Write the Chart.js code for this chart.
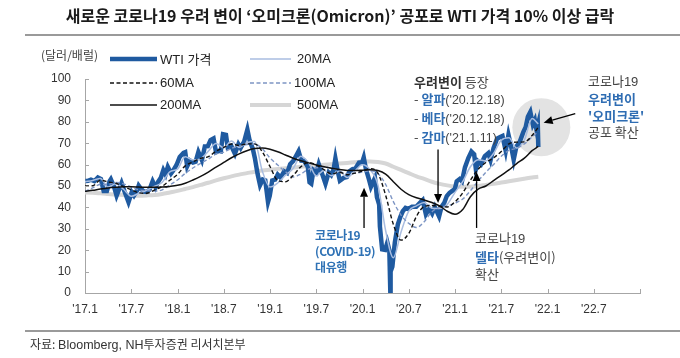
<!DOCTYPE html>
<html>
<head>
<meta charset="utf-8">
<script src="https://cdn.jsdelivr.net/npm/chart.js@4.4.1/dist/chart.umd.min.js"></script>
<style>
  body { margin: 0; background: #fff; }
  #wrap { position: relative; width: 680px; height: 358px; overflow: hidden; font-family: 'Noto Sans CJK KR', sans-serif; color: #333; }
  #chart { position: absolute; left: 0; top: 0; }
  .t { position: absolute; white-space: nowrap; font-size: 13px; line-height: 17px; color: #444; }
  .n { font-family: 'Liberation Sans Narrow', 'Liberation Sans', Arial, sans-serif; }
  .b { color: #2f6db3; font-weight: bold; }
  .hr { position: absolute; left: 25px; width: 655px; height: 2px; background: #9a9a9a; }
</style>
</head>
<body>
<div id="wrap">
  <canvas id="chart" width="680" height="358"></canvas>
  <div class="t" style="left:0;width:680px;text-align:center;top:7px;font-size:16px;font-weight:bold;color:#1a1a1a;">새로운 코로나19 우려 변이 ‘오미크론(Omicron)’ 공포로 WTI 가격 10% 이상 급락</div>
  <div class="hr" style="top:34px;"></div>
  <div class="t" style="left:41px;top:46px;font-size:12px;">(달러/배럴)</div>

  <div class="t n" style="left:160px;top:50px;color:#222;">WTI <span style="font-family:'Noto Sans CJK KR'">가격</span></div>
  <div class="t n" style="left:297px;top:50px;color:#222;">20MA</div>
  <div class="t n" style="left:160px;top:74px;color:#222;">60MA</div>
  <div class="t n" style="left:294px;top:74px;color:#222;">100MA</div>
  <div class="t n" style="left:160px;top:96px;color:#222;">200MA</div>
  <div class="t n" style="left:297px;top:96px;color:#222;">500MA</div>

  <div class="t" style="left:414px;top:73px;line-height:17px;">
    <span style="font-weight:bold;color:#333">우려변이</span> 등장<br>
    - <span class="b">알파</span><span class="n" style="font-size:12.5px">('20.12.18)</span><br>
    - <span class="b">베타</span><span class="n" style="font-size:12.5px">('20.12.18)</span><br>
    - <span class="b">감마</span><span class="n" style="font-size:12.5px">('21.1.11)</span>
  </div>
  <div class="t" style="left:588px;top:73px;line-height:16.8px;">
    코로나<span class="n">19</span><br>
    <span class="b">우려변이</span><br>
    <span class="b">'오미크론'</span><br>
    공포 확산
  </div>
  <div class="t b" style="left:315px;top:227px;line-height:16px;font-size:12px;letter-spacing:-0.4px;color:#2f72b5;">
    코로나19<br>(COVID-19)<br>대유행
  </div>
  <div class="t" style="left:475px;top:229px;line-height:17.5px;">
    코로나<span class="n">19</span><br>
    <span class="b">델타</span>(우려변이)<br>
    확산
  </div>

  <div class="hr" style="top:330px;"></div>
  <div class="t" style="left:30px;top:335px;font-size:12px;color:#333;">자료: <span class="n" style="font-size:12.5px">Bloomberg, NH</span>투자증권 리서치본부</div>
</div>

<script>
// x axis is in months since Jan 2017
const tickMonths = [0, 6, 12, 18, 24, 30, 36, 42, 48, 54, 60, 66, 72];
const tickLabels = ["'17.1", "'17.7", "'18.1", "'18.7", "'19.1", "'19.7", "'20.1", "'20.7", "'21.1", "'21.7", "'22.1", "'22.7", ""];

// WTI price (USD/bbl)
const wtiDates = [
  '2017-01-03','2017-01-13','2017-01-25','2017-02-08','2017-02-22','2017-03-03','2017-03-14','2017-03-27','2017-04-07','2017-04-12','2017-04-25','2017-05-04','2017-05-15','2017-05-24','2017-06-05','2017-06-14','2017-06-21','2017-07-03','2017-07-12','2017-07-25','2017-07-31','2017-08-10','2017-08-21','2017-08-31','2017-09-12','2017-09-25','2017-10-06','2017-10-16','2017-10-27','2017-11-06','2017-11-15','2017-11-24','2017-12-06','2017-12-15','2017-12-28',
  '2018-01-10','2018-01-25','2018-02-01','2018-02-09','2018-02-20','2018-03-01','2018-03-12','2018-03-23','2018-04-06','2018-04-18','2018-04-30','2018-05-10','2018-05-22','2018-06-01','2018-06-12','2018-06-20','2018-06-29','2018-07-10','2018-07-17','2018-07-31','2018-08-15','2018-08-29','2018-09-07','2018-09-21','2018-10-03','2018-10-12','2018-10-25','2018-11-02','2018-11-13','2018-11-23','2018-12-03','2018-12-13','2018-12-24','2018-12-31',
  '2019-01-10','2019-01-22','2019-02-01','2019-02-13','2019-02-27','2019-03-08','2019-03-20','2019-04-01','2019-04-12','2019-04-23','2019-05-03','2019-05-14','2019-05-29','2019-06-05','2019-06-12','2019-06-21','2019-07-02','2019-07-11','2019-07-24','2019-08-07','2019-08-20','2019-08-30','2019-09-09','2019-09-16','2019-09-27','2019-10-03','2019-10-18','2019-10-31','2019-11-11','2019-11-22','2019-12-05','2019-12-18','2019-12-31',
  '2020-01-06','2020-01-15','2020-01-27','2020-02-04','2020-02-20','2020-02-28','2020-03-06','2020-03-09','2020-03-18','2020-03-30','2020-04-08','2020-04-16','2020-04-20','2020-04-21','2020-04-28','2020-05-07','2020-05-19','2020-05-29','2020-06-08','2020-06-19','2020-06-30','2020-07-14','2020-07-31','2020-08-14','2020-08-26','2020-09-08','2020-09-21','2020-10-02','2020-10-13','2020-10-30','2020-11-09','2020-11-20','2020-11-30','2020-12-10','2020-12-21','2020-12-31',
  '2021-01-08','2021-01-20','2021-01-29','2021-02-10','2021-02-24','2021-03-05','2021-03-16','2021-03-23','2021-04-01','2021-04-13','2021-04-28','2021-05-11','2021-05-20','2021-06-01','2021-06-15','2021-06-28','2021-07-06','2021-07-19','2021-07-30','2021-08-10','2021-08-20','2021-08-31','2021-09-13','2021-09-28','2021-10-06','2021-10-15','2021-10-25','2021-11-04','2021-11-12','2021-11-19','2021-11-24','2021-11-26'
];
const wtiPrice = [
  52.3,52.4,53.0,52.3,54.0,53.3,47.7,47.7,52.2,53.1,49.6,45.5,48.8,51.4,47.4,44.7,42.5,47.1,45.5,48.0,50.2,48.6,47.4,47.2,48.2,52.2,49.3,51.9,53.9,57.4,55.3,58.9,55.9,57.3,59.8,
  63.6,65.5,65.8,59.2,61.9,61.0,61.4,65.9,62.1,68.5,68.6,71.4,72.2,65.8,66.4,66.2,74.2,73.9,68.1,68.8,65.0,69.5,67.8,70.8,76.4,71.3,67.3,63.1,55.7,50.4,53.0,52.6,42.5,45.4,
  52.6,53.0,55.3,53.9,56.9,56.1,60.2,61.6,63.9,66.3,61.9,61.8,59.0,51.7,51.1,57.4,56.3,60.2,55.9,51.1,56.3,55.1,57.9,62.9,56.0,52.5,53.8,54.2,56.9,57.8,58.4,60.9,61.1,
  63.3,57.8,53.1,49.6,53.8,44.8,41.3,31.1,20.4,20.1,23.6,19.9,0,10.0,12.3,23.6,32.0,35.5,38.2,39.8,39.3,40.3,40.3,42.0,43.4,36.8,39.3,37.1,40.2,35.8,40.3,42.2,45.3,46.8,47.7,48.5,
  52.2,53.3,52.2,58.7,63.2,66.1,64.8,57.8,61.5,60.2,63.9,65.3,62.1,67.7,72.1,72.9,73.4,66.4,73.9,68.3,62.3,68.5,70.5,75.3,77.4,82.3,84.6,78.8,80.8,76.1,78.4,68.2
];

// moving averages, one reading per month start (Jan 2017 .. Nov 2021) plus the last day
const ma20 = [52.0,52.6,53.5,49.5,51.0,48.5,45.2,46.6,48.0,49.8,51.6,56.6,57.9,63.7,62.2,62.7,66.3,69.9,67.9,71.0,68.0,70.2,70.8,57.0,49.5,51.4,55.0,58.2,63.9,60.9,54.7,57.4,54.8,57.0,54.0,57.0,59.9,57.5,50.5,29.2,16.5,28.5,38.3,40.7,42.3,39.6,39.5,41.4,47.0,52.0,59.0,62.3,61.7,65.2,71.4,72.5,67.7,71.5,81.5,79.0];
const ma60 = [50.0,50.1,52.7,51.9,51.3,49.7,48.2,46.8,46.6,48.1,49.8,52.7,55.4,59.4,61.3,62.9,63.7,66.3,68.0,69.6,69.0,69.7,69.7,66.0,59.1,52.6,52.0,54.9,59.0,61.0,59.8,57.7,55.6,56.4,55.3,56.0,57.0,58.1,56.0,45.7,32.1,24.7,27.8,35.8,40.4,40.9,40.5,40.2,42.6,46.8,52.7,57.8,61.0,63.1,66.1,69.7,70.5,70.6,73.6,77.5];
const ma100 = [47.5,49.1,50.7,50.7,51.7,51.0,49.5,48.2,47.9,47.6,48.2,50.5,52.8,55.9,58.4,60.6,62.6,65.0,65.8,67.6,68.6,69.4,69.6,67.4,63.1,59.8,56.7,54.2,55.6,57.9,58.5,59.0,58.3,57.0,55.6,56.0,56.5,57.1,55.8,50.8,42.7,36.4,32.6,30.6,33.3,37.9,40.1,40.7,42.0,43.9,47.8,52.3,56.4,60.0,63.9,66.6,67.7,69.7,72.9,75.5];
const ma200 = [47.5,48.0,48.6,49.1,49.4,49.6,49.6,49.5,49.4,49.4,49.5,49.8,50.3,51.3,52.8,54.5,56.5,58.8,61.0,63.2,65.0,66.5,67.5,67.8,67.2,66.0,64.5,63.0,61.8,60.8,59.8,59.0,58.3,57.7,57.3,57.2,57.4,57.6,57.2,55.5,52.0,48.5,46.0,44.5,43.5,42.3,40.7,38.2,36.8,39.0,45.0,48.5,50.0,52.5,55.0,57.5,60.5,63.0,66.5,68.5];
const ma500 = [47.0,46.8,46.6,46.3,46.0,45.8,45.6,45.5,45.6,45.8,46.3,47.0,47.7,48.6,49.5,50.5,51.5,52.6,53.6,54.5,55.3,56.0,56.7,57.2,57.6,58.0,58.3,58.6,59.0,59.3,59.6,59.9,60.2,60.5,60.8,61.1,61.4,61.5,61.2,60.5,59.0,57.5,56.0,54.5,53.3,52.0,51.0,50.3,49.8,49.6,49.7,50.0,50.5,51.0,51.6,52.2,52.8,53.4,54.0,54.3];

function toMonth(d) {
  const [y, m, day] = d.split('-').map(Number);
  return (y - 2017) * 12 + (m - 1) + (day - 1) / 31;
}
const maX = ma20.map((v, i) => (i < ma20.length - 1 ? i : toMonth('2021-11-26')));
const pts = (xs, ys) => ys.map((v, i) => ({ x: xs[i], y: v }));

const wtiData = pts(wtiDates.map(toMonth), wtiPrice);

// annotation arrows, in axis units (month, price)
const arrows = [
  { x1: 63.6, y1: 83.8, x2: 59.5, y2: 79.6 },
  { x1: 45.8, y1: 67.0, x2: 45.8, y2: 42.0 },
  { x1: 36.2, y1: 30.4, x2: 36.2, y2: 49.2 },
  { x1: 50.8, y1: 30.4, x2: 50.8, y2: 56.5 }
];
const highlight = { x: 59.2, y: 77.5, r: 29 };

const datasets = [
  { label: '200MA', data: pts(maX, ma200), borderColor: '#111', borderWidth: 1.5, order: 0, cubicInterpolationMode: 'monotone' },
  { label: '60MA', data: pts(maX, ma60), borderColor: '#111', borderWidth: 1.4, borderDash: [4, 2.5], order: 1, cubicInterpolationMode: 'monotone' },
  { label: '100MA', data: pts(maX, ma100), borderColor: '#7d95c4', borderWidth: 1.4, borderDash: [4, 2.5], order: 2, cubicInterpolationMode: 'monotone' },
  { label: '20MA', data: pts(maX, ma20), borderColor: '#a9bde0', borderWidth: 1.5, order: 3, cubicInterpolationMode: 'monotone' },
  { label: 'WTI 가격', data: wtiData, borderColor: '#1f5aa0', borderWidth: 4.5, order: 4, clip: { left: 5, right: 5, top: 5, bottom: 0 } },
  { label: '500MA', data: pts(maX, ma500), borderColor: '#d6d6d6', borderWidth: 4, order: 5, cubicInterpolationMode: 'monotone' }
];

// legend samples: [dataset label, line start x, line end x, y]
const legendRows = [
  ['WTI 가격', 110, 157, 59], ['20MA', 250, 291, 59],
  ['60MA', 110, 157, 83], ['100MA', 250, 291, 83],
  ['200MA', 110, 157, 105], ['500MA', 250, 291, 105]
];

const extras = {
  id: 'extras',
  beforeDatasetsDraw(chart) {
    const { ctx, scales: { x, y } } = chart;
    ctx.save();
    ctx.fillStyle = '#e3e3e3';
    ctx.beginPath();
    ctx.arc(x.getPixelForValue(highlight.x), y.getPixelForValue(highlight.y), highlight.r, 0, Math.PI * 2);
    ctx.fill();
    ctx.restore();
  },
  afterDraw(chart) {
    const { ctx, chartArea, scales: { x, y } } = chart;
    ctx.save();
    // inward tick marks
    ctx.strokeStyle = '#a6a6a6';
    ctx.lineWidth = 1;
    tickMonths.forEach(m => {
      const px = Math.round(x.getPixelForValue(m)) + 0.5;
      ctx.beginPath(); ctx.moveTo(px, chartArea.bottom); ctx.lineTo(px, chartArea.bottom - 4); ctx.stroke();
    });
    for (let v = 0; v <= 100; v += 10) {
      const py = Math.round(y.getPixelForValue(v)) + 0.5;
      ctx.beginPath(); ctx.moveTo(chartArea.left, py); ctx.lineTo(chartArea.left + 4, py); ctx.stroke();
    }
    // legend line samples
    legendRows.forEach(([label, x1, x2, ly]) => {
      const ds = chart.data.datasets.find(d => d.label === label);
      ctx.strokeStyle = ds.borderColor;
      ctx.lineWidth = ds.borderWidth;
      ctx.setLineDash(ds.borderDash || []);
      ctx.beginPath(); ctx.moveTo(x1, ly); ctx.lineTo(x2, ly); ctx.stroke();
    });
    ctx.setLineDash([]);
    // arrows
    ctx.strokeStyle = '#000';
    ctx.fillStyle = '#000';
    ctx.lineWidth = 1.3;
    arrows.forEach(a => {
      const x1 = x.getPixelForValue(a.x1), y1 = y.getPixelForValue(a.y1);
      const x2 = x.getPixelForValue(a.x2), y2 = y.getPixelForValue(a.y2);
      const ang = Math.atan2(y2 - y1, x2 - x1);
      const len = 9, half = 4;
      const bx = x2 - len * Math.cos(ang), by = y2 - len * Math.sin(ang);
      ctx.beginPath(); ctx.moveTo(x1, y1); ctx.lineTo(bx, by); ctx.stroke();
      ctx.beginPath();
      ctx.moveTo(x2, y2);
      ctx.lineTo(bx + half * Math.sin(ang), by - half * Math.cos(ang));
      ctx.lineTo(bx - half * Math.sin(ang), by + half * Math.cos(ang));
      ctx.closePath(); ctx.fill();
    });
    ctx.restore();
  }
};

const tickFont = { family: "'Liberation Sans Narrow', 'Liberation Sans', Arial, sans-serif", size: 12 };

new Chart(document.getElementById('chart'), {
  type: 'line',
  data: { datasets },
  options: {
    responsive: false,
    animation: false,
    events: [],
    layout: { padding: { top: 79, right: 40, left: 0, bottom: 0 } },
    elements: { point: { radius: 0 }, line: { tension: 0 } },
    plugins: { legend: { display: false }, tooltip: { enabled: false } },
    scales: {
      x: {
        type: 'linear', min: 0, max: 72,
        afterFit: s => { s.height = 65; },
        afterBuildTicks: s => { s.ticks = tickMonths.map(v => ({ value: v })); },
        ticks: { callback: (v) => tickLabels[tickMonths.indexOf(v)], font: tickFont, color: '#333', padding: 9, maxRotation: 0, autoSkip: false },
        grid: { display: false, drawTicks: false },
        border: { color: '#a6a6a6' }
      },
      y: {
        min: 0, max: 100,
        afterFit: s => { s.width = 85; },
        ticks: { stepSize: 10, font: tickFont, color: '#333', padding: 14 },
        grid: { display: false, drawTicks: false },
        border: { color: '#a6a6a6' }
      }
    }
  },
  plugins: [extras]
});
</script>
</body>
</html>
